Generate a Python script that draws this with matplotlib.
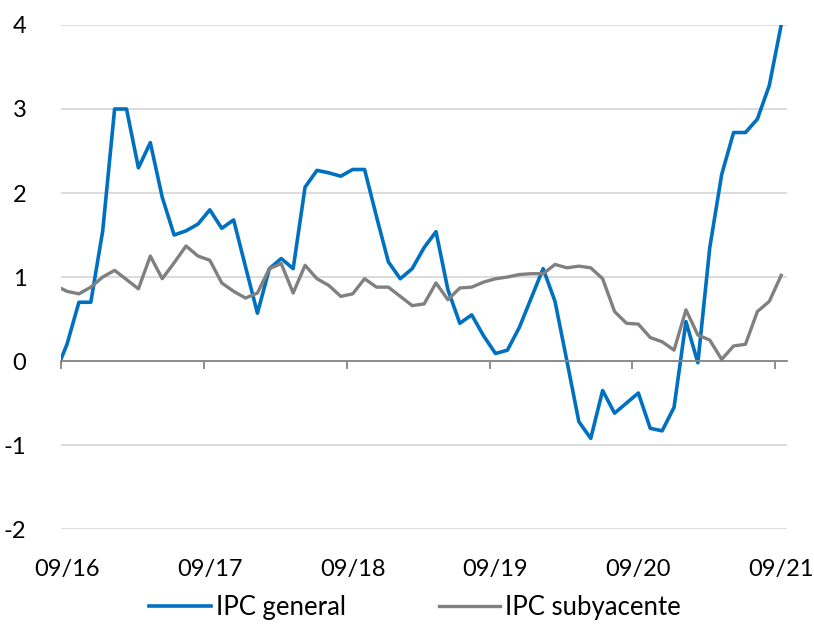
import numpy as np
import matplotlib
matplotlib.use('Agg')
import matplotlib.pyplot as plt
import matplotlib.transforms as mtransforms

plt.rcParams['font.family'] = ['Lato', 'DejaVu Sans']
plt.rcParams['axes.unicode_minus'] = False

# Datos mensuales: desde 08/16 hasta 09/21 (tasa interanual, %)
ipc_general = [
    -0.15,
    0.2, 0.7, 0.7, 1.55,
    3.0, 3.0, 2.3, 2.6, 1.95, 1.5, 1.55, 1.63, 1.8, 1.58, 1.68, 1.12,
    0.57, 1.1, 1.22, 1.1, 2.07, 2.27, 2.24, 2.2, 2.28, 2.28, 1.72, 1.18,
    0.98, 1.1, 1.35, 1.54, 0.85, 0.45, 0.55, 0.3, 0.09, 0.13, 0.4, 0.75,
    1.1, 0.71, 0.0, -0.72, -0.92, -0.35, -0.62, -0.5, -0.38, -0.8, -0.83, -0.55,
    0.47, -0.02, 1.35, 2.22, 2.72, 2.72, 2.88, 3.28, 4.0,
]
ipc_subyacente = [
    0.9,
    0.83, 0.8, 0.88, 1.0,
    1.08, 0.97, 0.86, 1.25, 0.98, 1.17, 1.37, 1.25, 1.2, 0.93, 0.83, 0.75,
    0.81, 1.1, 1.16, 0.81, 1.14, 0.98, 0.9, 0.77, 0.8, 0.98, 0.88, 0.88,
    0.77, 0.66, 0.68, 0.93, 0.73, 0.87, 0.88, 0.94, 0.98, 1.0, 1.03, 1.04,
    1.04, 1.15, 1.11, 1.13, 1.11, 0.98, 0.59, 0.45, 0.44, 0.28, 0.23, 0.13,
    0.61, 0.31, 0.25, 0.02, 0.18, 0.2, 0.59, 0.71, 1.02,
]
etiquetas_x = ['09/16', '09/17', '09/18', '09/19', '09/20', '09/21']
valores_y = [-2, -1, 0, 1, 2, 3, 4]

# posición: centro de cada mes (08/16 = -0.5, 09/16 = 0.5, ...)
x = np.arange(len(ipc_general)) - 0.5

fig = plt.figure(figsize=(8.14, 6.24), dpi=100)
ax = fig.add_axes([0.075, 0.152, 0.892, 0.808])

ax.plot(x, ipc_general, color='#0070C0', linewidth=2.6, label='IPC general')
ax.plot(x, ipc_subyacente, color='#808080', linewidth=2.4, label='IPC subyacente')

ax.set_xlim(0, 61)
ax.set_ylim(-2, 4)

# rejilla horizontal
ax.set_yticks(valores_y)
ax.set_yticklabels([str(v) for v in valores_y], fontsize=17)
ax.yaxis.grid(True, color='#D9D9D9', linewidth=1.3)
ax.set_axisbelow(True)
ax.tick_params(axis='y', length=0, pad=25)

for s in ['left', 'right', 'top']:
    ax.spines[s].set_visible(False)
ax.spines['bottom'].set_position(('data', 0))
ax.spines['bottom'].set_color('#868686')
ax.spines['bottom'].set_linewidth(1.3)

ax.set_xticks(np.arange(0, 61, 12))
ax.set_xticklabels([])
ax.tick_params(axis='x', length=6, width=1.3, color='#868686', direction='out')

trans = mtransforms.blended_transform_factory(ax.transData, ax.transAxes)
for i, lab in enumerate(etiquetas_x):
    ax.text(i * 12 + 0.5, -0.081, lab, transform=trans, ha='center', va='center', fontsize=17)

fig.legend(loc='center', bbox_to_anchor=(0.51, 0.027), ncol=2, frameon=False,
           fontsize=18.5, handlelength=2.4, handletextpad=0.2, columnspacing=3.6)

fig.savefig('out.png', dpi=100)
